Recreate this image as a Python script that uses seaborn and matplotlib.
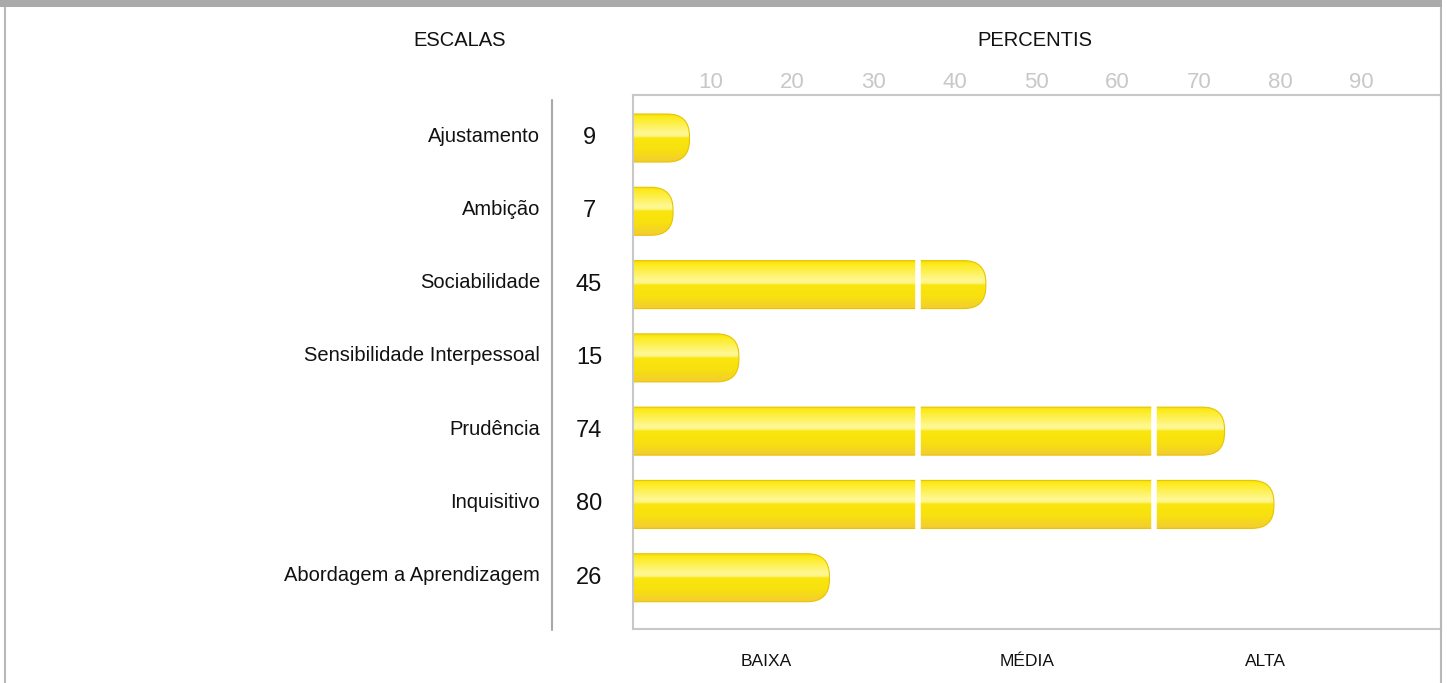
import numpy as np
import matplotlib
matplotlib.use("Agg")
import matplotlib.pyplot as plt
import matplotlib.transforms as mtransforms
from matplotlib.patches import FancyBboxPatch, Rectangle
from matplotlib.lines import Line2D
from matplotlib.colors import LinearSegmentedColormap
import seaborn as sns

# ---- data ----
categories = ["Ajustamento", "Ambição", "Sociabilidade", "Sensibilidade Interpessoal",
              "Prudência", "Inquisitivo", "Abordagem a Aprendizagem"]
values = [9, 7, 45, 15, 74, 80, 26]
percentile_ticks = [10, 20, 30, 40, 50, 60, 70, 80, 90]
level_labels = ["BAIXA", "MÉDIA", "ALTA"]
level_positions = [18.3, 50.0, 79.0]
segment_breaks = [36.8, 65.4]

sns.set_theme(style="white")
plt.rcParams["font.family"] = ["Liberation Sans", "DejaVu Sans"]

W, H = 1447, 683
fig = plt.figure(figsize=(W / 100, H / 100), dpi=100)
fig.patch.set_facecolor("white")

ax_l, ax_r, ax_t, ax_b = 633, 1441, 95, 629
ax = fig.add_axes([ax_l / W, 1 - ax_b / H, (ax_r - ax_l) / W, (ax_b - ax_t) / H])

bar_h = 0.655
sns.barplot(x=values, y=categories, orient="h", ax=ax, width=bar_h,
            color="#f7e300", saturation=1)

ax.set_xlim(2.14, 100.3)
ax.set_ylim(6.70, -0.587)

# gradient fill for the bars
grad_cmap = LinearSegmentedColormap.from_list("bar", [
    (0.00, (0.95, 0.86, 0.05)),
    (0.06, (0.99, 0.92, 0.10)),
    (0.40, (1.00, 0.97, 0.58)),
    (0.46, (1.00, 0.96, 0.52)),
    (0.50, (0.98, 0.90, 0.05)),
    (0.75, (0.97, 0.88, 0.06)),
    (1.00, (0.95, 0.80, 0.20)),
])
grad = np.linspace(0, 1, 256).reshape(-1, 1)

px_x = (ax_r - ax_l) / (100.3 - 2.14)
px_y = (ax_b - ax_t) / (6.70 + 0.587)
radius_px = 22
r_x = radius_px / px_x
aspect = px_x / px_y

for p in list(ax.patches):
    x0, y0 = p.get_x(), p.get_y()
    w, h = p.get_width(), p.get_height()
    p.set_visible(False)
    shape = FancyBboxPatch((x0 - 4, y0), w + 4, h,
                           boxstyle=f"round,pad=0,rounding_size={r_x}",
                           mutation_aspect=aspect, facecolor="none",
                           edgecolor="#e8c400", linewidth=0.8, zorder=2.1)
    ax.add_patch(shape)
    im = ax.imshow(grad, cmap=grad_cmap, aspect="auto",
                   extent=(x0 - 4, x0 + w, y0 + h, y0), zorder=2,
                   interpolation="bilinear")
    im.set_clip_path(shape)

ax.set_xlim(2.14, 100.3)
ax.set_ylim(6.70, -0.587)

for b in segment_breaks:
    ax.axvline(b, ymin=0.01, ymax=0.99, color="white", lw=4.0, zorder=2.2)

# spines
for s in ["top", "bottom", "left", "right"]:
    ax.spines[s].set_visible(True)
    ax.spines[s].set_color("#c8c8c8")
    ax.spines[s].set_linewidth(1.5)
    ax.spines[s].set_zorder(3)

ax.set_xticks([])
ax.set_xlabel("")
ax.set_ylabel("")
ax.tick_params(axis="y", left=False, length=0, pad=67, labelsize=14.5,
               labelcolor="#111111", labelleft=True)
shift_up = mtransforms.ScaledTranslation(0, 4 / 100, fig.dpi_scale_trans)
for lbl in ax.get_yticklabels():
    lbl.set_transform(lbl.get_transform() + shift_up)

# value labels
tr = mtransforms.blended_transform_factory(ax.transAxes, ax.transData)
for i, v in enumerate(values):
    ax.text((589 - ax_l) / (ax_r - ax_l), i, str(v), transform=tr,
            ha="center", va="center", fontsize=17, color="#111111")

# level labels at bottom
tr2 = mtransforms.blended_transform_factory(ax.transData, ax.transAxes)
for lab, pos in zip(level_labels, level_positions):
    ax.text(pos, (ax_b - 661) / (ax_b - ax_t), lab, transform=tr2,
            ha="center", va="center", fontsize=12.5, color="#111111", clip_on=False)

# percentile tick labels on top
ax2 = ax.twiny()
ax2.set_xlim(0.5, 99.75)
ax2.set_xticks(percentile_ticks)
ax2.set_xticklabels([str(t) for t in percentile_ticks])
ax2.tick_params(axis="x", top=True, bottom=False, length=0, pad=1.5,
                labelsize=16, labelcolor="#c8c8c8")
for s in ax2.spines.values():
    s.set_visible(False)

# headers
fig.text(460 / W, 1 - 40 / H, "ESCALAS", ha="center", va="center",
         fontsize=14.5, color="#111111")
fig.text(1034.5 / W, 1 - 40 / H, "PERCENTIS", ha="center", va="center",
         fontsize=14.5, color="#111111")

# outer frame
fig.patches.append(Rectangle((0, 1 - 7 / H), 1442 / W, 7 / H, transform=fig.transFigure,
                             facecolor="#aaaaaa", edgecolor="none", zorder=5))
fig.lines.append(Line2D([5 / W, 5 / W], [0, 1 - 7 / H], transform=fig.transFigure,
                        color="#b8b8b8", lw=1.5))
fig.lines.append(Line2D([1441 / W, 1441 / W], [0, 1 - 7 / H], transform=fig.transFigure,
                        color="#b8b8b8", lw=1.5))
# divider between labels and values
fig.lines.append(Line2D([551.5 / W, 551.5 / W], [1 - 100 / H, 1 - 630 / H],
                        transform=fig.transFigure, color="#a8a8a8", lw=1.5))

fig.savefig("out.png", dpi=100)
